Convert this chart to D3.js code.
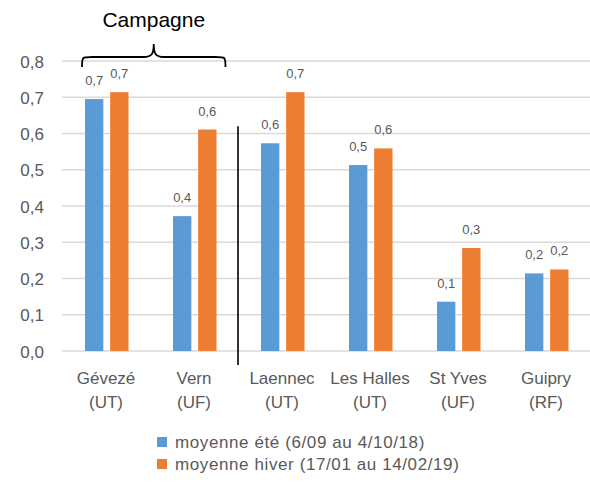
<!DOCTYPE html>
<html>
<head>
<meta charset="utf-8">
<script src="https://cdn.jsdelivr.net/npm/d3@7"></script>
<style>
  body { margin: 0; background: #fff; }
  text { font-family: "Liberation Sans", Arial, sans-serif; }
</style>
</head>
<body>
<svg id="chart" width="590" height="495"></svg>
<script>
// stations and their site type
const sites = ["Gévezé", "Vern", "Laennec", "Les Halles", "St Yves", "Guipry"];
const siteTypes = ["(UT)", "(UF)", "(UT)", "(UT)", "(UF)", "(RF)"];

const seriesNames = ["moyenne été (6/09 au 4/10/18)", "moyenne hiver (17/01 au 14/02/19)"];
const summer = [0.695, 0.372, 0.573, 0.513, 0.136, 0.214];
const winter = [0.714, 0.611, 0.714, 0.559, 0.284, 0.225];

const yTicks = [0, 0.1, 0.2, 0.3, 0.4, 0.5, 0.6, 0.7, 0.8];

const colors = ["#5b9bd5", "#ed7d31"];
const grey = "#595959";

const svg = d3.select("#chart");

const fr = d3.formatLocale({decimal: ",", thousands: " ", grouping: [3], currency: ["", " €"]});
const fmt = fr.format(".1f");

const x0 = d3.scaleBand()
    .domain(sites)
    .range([62, 590])
    .padding(0);

const x1 = d3.scaleBand()
    .domain([0, 1])
    .range([23, 66.5])
    .paddingInner(0.27);

const y = d3.scaleLinear()
    .domain([0, 0.8])
    .range([351, 61]);

// gridlines
svg.append("g")
    .attr("class", "grid")
    .selectAll("line")
    .data(yTicks)
    .enter().append("line")
    .attr("x1", x0.range()[0])
    .attr("x2", x0.range()[1])
    .attr("y1", d => y(d))
    .attr("y2", d => y(d))
    .attr("stroke", "#d9d9d9")
    .attr("stroke-width", 1.5);

// y axis labels
svg.append("g")
    .attr("class", "y-axis")
    .attr("transform", "translate(44,0)")
    .call(d3.axisLeft(y).tickValues(yTicks).tickFormat(fmt).tickSize(0).tickPadding(0))
    .call(g => g.select(".domain").remove())
    .call(g => g.selectAll(".tick text")
        .attr("font-family", "Liberation Sans, Arial, sans-serif")
        .attr("font-size", 17)
        .attr("fill", grey)
        .attr("dy", "0.36em"));

const rows = sites.map((s, i) => ({site: s, values: [summer[i], winter[i]]}));

const groups = svg.selectAll("g.site")
    .data(rows)
    .enter().append("g")
    .attr("class", "site")
    .attr("transform", d => `translate(${x0(d.site)},0)`);

groups.selectAll("rect")
    .data(d => d.values.map((v, k) => ({k: k, v: v})))
    .enter().append("rect")
    .attr("x", d => x1(d.k))
    .attr("width", x1.bandwidth())
    .attr("y", d => y(d.v))
    .attr("height", d => y(0) - y(d.v))
    .attr("fill", d => colors[d.k]);

groups.selectAll("text.value")
    .data(d => d.values.map((v, k) => ({k: k, v: v})))
    .enter().append("text")
    .attr("class", "value")
    .attr("x", d => x1(d.k) + x1.bandwidth() / 2)
    .attr("y", d => y(d.v) - 14)
    .attr("text-anchor", "middle")
    .attr("font-size", 13)
    .attr("fill", grey)
    .text(d => fmt(d.v));

// category labels, two lines
const cat = svg.append("g").attr("class", "x-axis");
cat.selectAll("text")
    .data(sites)
    .enter().append("text")
    .attr("x", d => x0(d) + x0.bandwidth() / 2)
    .attr("y", 383.5)
    .attr("text-anchor", "middle")
    .attr("font-size", 17)
    .attr("fill", grey)
    .each(function(d, i) {
      const t = d3.select(this);
      t.append("tspan").attr("x", x0(d) + x0.bandwidth() / 2).text(d);
      t.append("tspan").attr("x", x0(d) + x0.bandwidth() / 2).attr("dy", 24).text(siteTypes[i]);
    });

// separator between campagne and urban sites
svg.append("line")
    .attr("x1", x0("Laennec"))
    .attr("x2", x0("Laennec"))
    .attr("y1", y(0.62))
    .attr("y2", y(0) + 14)
    .attr("stroke", "#000")
    .attr("stroke-width", 1.6);

// brace over the campagne sites
const bl = x0("Gévezé") + x1(0) - 3;
const br = x0("Vern") + x1(1) + x1.bandwidth() + 9;
const bm = (bl + br) / 2;
const by = y(0.8) - 4;
const bb = y(0.8) + 6;
svg.append("path")
    .attr("d", `M${bl},${bb} C${bl},${by} ${bl},${by} ${bl + 10},${by}
                L${bm - 10},${by} C${bm - 2},${by} ${bm},${by - 3} ${bm},${by - 13}
                C${bm},${by - 3} ${bm + 2},${by} ${bm + 10},${by}
                L${br - 10},${by} C${br},${by} ${br},${by} ${br},${bb}`)
    .attr("fill", "none")
    .attr("stroke", "#000")
    .attr("stroke-width", 1.8);

svg.append("text")
    .attr("x", bm)
    .attr("y", 27)
    .attr("text-anchor", "middle")
    .attr("font-size", 21)
    .attr("fill", "#000")
    .text("Campagne");

// legend
const legend = svg.append("g")
    .attr("class", "legend")
    .selectAll("g")
    .data(seriesNames)
    .enter().append("g")
    .attr("transform", (d, i) => `translate(157,${442 + i * 22})`);

legend.append("rect")
    .attr("x", 0)
    .attr("y", -5)
    .attr("width", 10)
    .attr("height", 10)
    .attr("fill", (d, i) => colors[i]);

legend.append("text")
    .attr("x", 18)
    .attr("y", 6)
    .attr("font-size", 17)
    .attr("letter-spacing", 0.6)
    .attr("fill", grey)
    .text(d => d);
</script>
</body>
</html>
